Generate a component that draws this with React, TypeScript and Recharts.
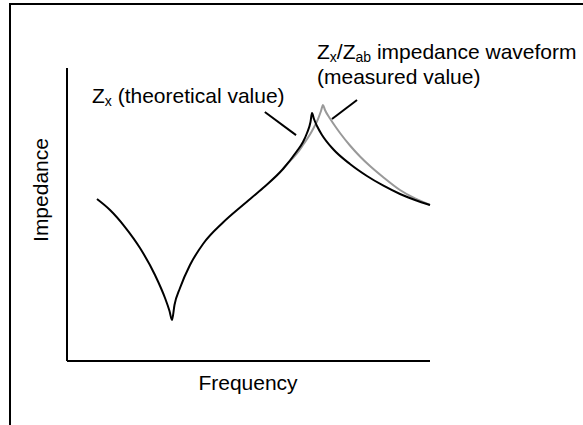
import React from 'react';
import { LineChart, Line, XAxis, YAxis, ReferenceLine } from 'recharts';

// Theoretical impedance Zx (black): anti-resonance dip, then resonance peak
const theoreticalFreq = [8.26, 11.85, 15.98, 20.11, 24.24, 27.0, 28.24, 28.93, 29.61, 31.13, 33.88, 37.47, 42.98, 48.48, 53.99, 59.5, 63.36, 65.01, 66.12, 67.08, 67.49, 68.04, 68.87, 70.25, 73.28, 77.96, 82.64, 87.05, 91.74, 95.87, 100];
const theoreticalZ = [55.29, 51.54, 45.73, 38.57, 29.35, 21.5, 17.06, 13.99, 19.11, 24.91, 32.76, 39.93, 47.27, 53.24, 59.04, 65.53, 71.67, 74.74, 77.82, 81.57, 84.64, 82.59, 80.2, 77.13, 72.35, 67.24, 63.14, 59.9, 57.0, 54.95, 53.24];

// Measured Zx/Zab waveform (grey): splits off near the peak, shifted higher in frequency
const measuredFreq = [59.5, 61.43, 63.36, 65.01, 67.49, 69.15, 69.97, 70.52, 71.07, 72.45, 73.83, 75.21, 77.96, 80.72, 83.47, 87.05, 91.74, 95.87, 100];
const measuredZ = [65.53, 68.26, 70.82, 73.72, 78.5, 82.59, 85.32, 87.37, 85.67, 82.76, 80.2, 77.82, 73.55, 69.8, 66.55, 62.8, 58.36, 55.46, 53.24];

// leader lines from the annotations to each curve
const theoreticalLeader = [{ x: 54.5, y: 85.0 }, { x: 63.1, y: 77.1 }];
const measuredLeader = [{ x: 79.9, y: 89.1 }, { x: 73.0, y: 82.6 }];

const buildTable = () => {
  const rows = new Map<number, { freq: number; theoretical?: number; measured?: number }>();
  theoreticalFreq.forEach((f, i) => {
    rows.set(f, { ...(rows.get(f) || { freq: f }), theoretical: theoreticalZ[i] });
  });
  measuredFreq.forEach((f, i) => {
    rows.set(f, { ...(rows.get(f) || { freq: f }), measured: measuredZ[i] });
  });
  return Array.from(rows.values()).sort((a, b) => a.freq - b.freq);
};

const data = buildTable();

const font = 'Arial, "Liberation Sans", sans-serif';
const sub: React.CSSProperties = { fontSize: 14, position: 'relative', top: 3 };
const note: React.CSSProperties = { position: 'absolute', fontSize: 21, whiteSpace: 'nowrap', lineHeight: '18px' };

const App = () => {
  return (
    <div style={{ position: 'absolute', left: 0, top: 0, width: 583, height: 425, overflow: 'hidden', background: '#fff', fontFamily: font, color: '#000' }}>
      {/* outer frame */}
      <div style={{ position: 'absolute', left: 9, top: 3, width: 600, height: 440, borderLeft: '2px solid #000', borderTop: '2px solid #000' }} />

      <LineChart width={583} height={425} data={data} margin={{ top: 68, right: 153, bottom: 63, left: 66 }}>
        <XAxis
          dataKey="freq"
          type="number"
          domain={[0, 100]}
          tick={false}
          tickLine={false}
          height={1}
          axisLine={{ stroke: '#000', strokeWidth: 2 }}
        />
        <YAxis
          type="number"
          domain={[0, 100]}
          tick={false}
          tickLine={false}
          width={1}
          axisLine={{ stroke: '#000', strokeWidth: 2 }}
        />
        <Line
          dataKey="measured"
          type="monotone"
          stroke="#999999"
          strokeWidth={2}
          dot={false}
          connectNulls
          isAnimationActive={false}
        />
        <Line
          dataKey="theoretical"
          type="monotone"
          stroke="#000"
          strokeWidth={2}
          dot={false}
          connectNulls
          isAnimationActive={false}
        />
        <ReferenceLine segment={theoreticalLeader} stroke="#000" strokeWidth={2} />
        <ReferenceLine segment={measuredLeader} stroke="#000" strokeWidth={2} />
      </LineChart>

      {/* axis titles */}
      <div style={{ position: 'absolute', left: 188, top: 371, width: 120, textAlign: 'center', fontSize: 21 }}>Frequency</div>
      <div style={{ position: 'absolute', left: 41, top: 190, fontSize: 21, transform: 'translate(-50%, -50%) rotate(-90deg)', whiteSpace: 'nowrap' }}>Impedance</div>

      {/* annotations */}
      <div style={{ ...note, left: 92, top: 87 }}>
        Z<span style={sub}>x</span> (theoretical value)
      </div>
      <div style={{ ...note, left: 317, top: 43 }}>
        Z<span style={sub}>x</span>/Z<span style={sub}>ab</span> impedance waveform
      </div>
      <div style={{ ...note, left: 317, top: 68 }}>(measured value)</div>
    </div>
  );
};

export default App;
